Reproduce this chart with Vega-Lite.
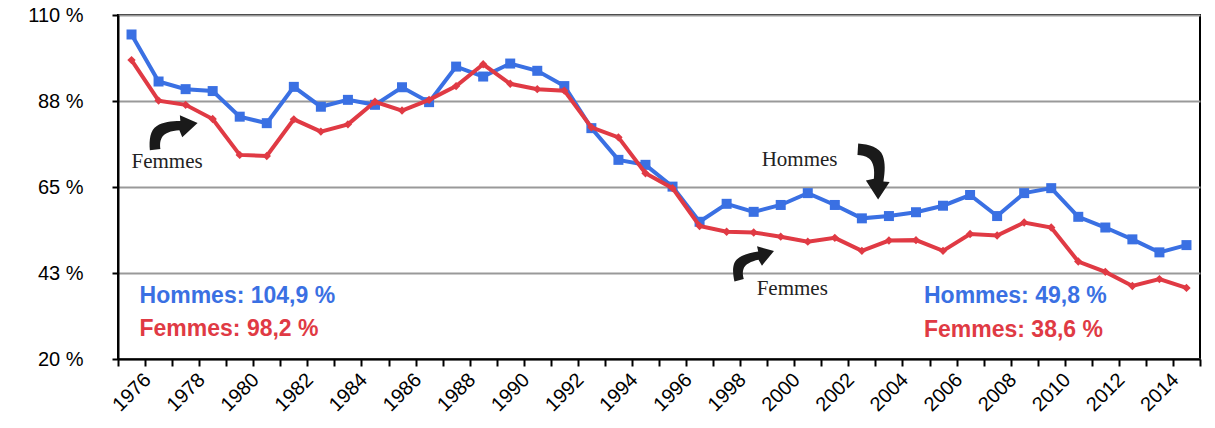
{
  "$schema": "https://vega.github.io/schema/vega-lite/v6.json",
  "width": 1082,
  "height": 344,
  "autosize": "none",
  "padding": {"left": 118, "top": 15, "right": 15, "bottom": 69},
  "config": {
    "view": {"stroke": "black", "strokeWidth": 2},
    "font": "Liberation Sans"
  },
  "datasets": {
    "series": [
      {"year":1976,"serie":"Hommes","value":104.9},{"year":1977,"serie":"Hommes","value":92.6},{"year":1978,"serie":"Hommes","value":90.6},{"year":1979,"serie":"Hommes","value":90.1},{"year":1980,"serie":"Hommes","value":83.4},{"year":1981,"serie":"Hommes","value":81.7},{"year":1982,"serie":"Hommes","value":91.2},{"year":1983,"serie":"Hommes","value":86.0},{"year":1984,"serie":"Hommes","value":87.8},{"year":1985,"serie":"Hommes","value":86.5},{"year":1986,"serie":"Hommes","value":91.1},{"year":1987,"serie":"Hommes","value":87.2},{"year":1988,"serie":"Hommes","value":96.5},{"year":1989,"serie":"Hommes","value":93.9},{"year":1990,"serie":"Hommes","value":97.3},{"year":1991,"serie":"Hommes","value":95.4},{"year":1992,"serie":"Hommes","value":91.4},{"year":1993,"serie":"Hommes","value":80.4},{"year":1994,"serie":"Hommes","value":72.1},{"year":1995,"serie":"Hommes","value":70.8},{"year":1996,"serie":"Hommes","value":65.1},{"year":1997,"serie":"Hommes","value":55.9},{"year":1998,"serie":"Hommes","value":60.6},{"year":1999,"serie":"Hommes","value":58.5},{"year":2000,"serie":"Hommes","value":60.3},{"year":2001,"serie":"Hommes","value":63.4},{"year":2002,"serie":"Hommes","value":60.3},{"year":2003,"serie":"Hommes","value":56.8},{"year":2004,"serie":"Hommes","value":57.4},{"year":2005,"serie":"Hommes","value":58.4},{"year":2006,"serie":"Hommes","value":60.1},{"year":2007,"serie":"Hommes","value":62.9},{"year":2008,"serie":"Hommes","value":57.4},{"year":2009,"serie":"Hommes","value":63.4},{"year":2010,"serie":"Hommes","value":64.7},{"year":2011,"serie":"Hommes","value":57.2},{"year":2012,"serie":"Hommes","value":54.4},{"year":2013,"serie":"Hommes","value":51.3},{"year":2014,"serie":"Hommes","value":47.9},{"year":2015,"serie":"Hommes","value":49.8},
      {"year":1976,"serie":"Femmes","value":98.2},{"year":1977,"serie":"Femmes","value":87.6},{"year":1978,"serie":"Femmes","value":86.5},{"year":1979,"serie":"Femmes","value":82.8},{"year":1980,"serie":"Femmes","value":73.4},{"year":1981,"serie":"Femmes","value":73.1},{"year":1982,"serie":"Femmes","value":82.7},{"year":1983,"serie":"Femmes","value":79.5},{"year":1984,"serie":"Femmes","value":81.4},{"year":1985,"serie":"Femmes","value":87.3},{"year":1986,"serie":"Femmes","value":85.0},{"year":1987,"serie":"Femmes","value":87.8},{"year":1988,"serie":"Femmes","value":91.4},{"year":1989,"serie":"Femmes","value":97.1},{"year":1990,"serie":"Femmes","value":92.0},{"year":1991,"serie":"Femmes","value":90.6},{"year":1992,"serie":"Femmes","value":90.2},{"year":1993,"serie":"Femmes","value":80.6},{"year":1994,"serie":"Femmes","value":78.0},{"year":1995,"serie":"Femmes","value":68.6},{"year":1996,"serie":"Femmes","value":64.7},{"year":1997,"serie":"Femmes","value":54.8},{"year":1998,"serie":"Femmes","value":53.3},{"year":1999,"serie":"Femmes","value":53.1},{"year":2000,"serie":"Femmes","value":52.0},{"year":2001,"serie":"Femmes","value":50.7},{"year":2002,"serie":"Femmes","value":51.7},{"year":2003,"serie":"Femmes","value":48.3},{"year":2004,"serie":"Femmes","value":51.0},{"year":2005,"serie":"Femmes","value":51.1},{"year":2006,"serie":"Femmes","value":48.3},{"year":2007,"serie":"Femmes","value":52.7},{"year":2008,"serie":"Femmes","value":52.3},{"year":2009,"serie":"Femmes","value":55.7},{"year":2010,"serie":"Femmes","value":54.4},{"year":2011,"serie":"Femmes","value":45.5},{"year":2012,"serie":"Femmes","value":42.8},{"year":2013,"serie":"Femmes","value":39.1},{"year":2014,"serie":"Femmes","value":40.9},{"year":2015,"serie":"Femmes","value":38.6}
    ]
  },
  "encoding": {
    "x": {
      "field": "year",
      "type": "ordinal",
      "scale": {"type": "band", "paddingInner": 0, "paddingOuter": 0},
      "axis": {
        "title": null,
        "tickBand": "extent",
        "labelExpr": "datum.value % 2 == 0 ? datum.label : ''",
        "labelAngle": -45,
        "labelAlign": "center",
        "labelBaseline": "middle",
        "labelPadding": 26,
        "labelFontSize": 20,
        "labelColor": "black",
        "labelOverlap": false,
        "domainColor": "black",
        "domainWidth": 2,
        "tickColor": "black",
        "tickWidth": 2,
        "tickSize": 7,
        "grid": false
      }
    },
    "y": {
      "field": "value",
      "type": "quantitative",
      "scale": {"domain": [20, 110], "nice": false, "zero": false},
      "axis": {
        "title": null,
        "values": [20, 42.5, 65, 87.5, 110],
        "labelExpr": "round(datum.value) + ' %'",
        "labelFontSize": 20,
        "labelColor": "black",
        "labelPadding": 29,
        "domainColor": "black",
        "domainWidth": 2,
        "tickColor": "black",
        "tickWidth": 2,
        "tickSize": 6,
        "grid": true,
        "gridColor": "#999999",
        "gridWidth": 2
      }
    },
    "color": {
      "field": "serie",
      "type": "nominal",
      "scale": {"domain": ["Hommes", "Femmes"], "range": ["#3a70e3", "#e03a44"]},
      "legend": null
    }
  },
  "layer": [
    {
      "data": {"name": "series"},
      "transform": [{"filter": "datum.serie == 'Hommes'"}],
      "mark": {"type": "line", "strokeWidth": 4}
    },
    {
      "data": {"name": "series"},
      "transform": [{"filter": "datum.serie == 'Hommes'"}],
      "mark": {"type": "point", "shape": "square", "filled": true, "size": 100, "opacity": 1}
    },
    {
      "data": {"name": "series"},
      "transform": [{"filter": "datum.serie == 'Femmes'"}],
      "mark": {"type": "line", "strokeWidth": 4}
    },
    {
      "data": {"name": "series"},
      "transform": [{"filter": "datum.serie == 'Femmes'"}],
      "mark": {"type": "point", "shape": "diamond", "filled": true, "size": 70, "opacity": 1}
    },
    {
      "data": {"values": [
        {"year": 1976, "value": 36.5, "serie": "Hommes", "label": "Hommes: 104,9 %"},
        {"year": 1976, "value": 27.9, "serie": "Femmes", "label": "Femmes: 98,2 %"},
        {"year": 2005, "value": 36.5, "serie": "Hommes", "label": "Hommes: 49,8 %"},
        {"year": 2005, "value": 27.6, "serie": "Femmes", "label": "Femmes: 38,6 %"}
      ]},
      "mark": {"type": "text", "align": "left", "baseline": "middle", "dx": 8, "fontSize": 23, "fontWeight": "bold", "font": "Liberation Sans"},
      "encoding": {"text": {"field": "label"}}
    },
    {
      "data": {"values": [{"year": 1976, "value": 70.0, "label": "Femmes"}]},
      "mark": {"type": "text", "align": "left", "baseline": "alphabetic", "dx": 0, "fontSize": 21, "font": "Liberation Serif"},
      "encoding": {"text": {"field": "label"}, "color": {"value": "#222222"}}
    },
    {
      "data": {"values": [{"year": 1999, "value": 70.55, "label": "Hommes"}]},
      "mark": {"type": "text", "align": "left", "baseline": "alphabetic", "dx": 8, "fontSize": 21, "font": "Liberation Serif"},
      "encoding": {"text": {"field": "label"}, "color": {"value": "#222222"}}
    },
    {
      "data": {"values": [{"year": 1999, "value": 36.75, "label": "Femmes"}]},
      "mark": {"type": "text", "align": "left", "baseline": "alphabetic", "dx": 3, "fontSize": 21, "font": "Liberation Serif"},
      "encoding": {"text": {"field": "label"}, "color": {"value": "#222222"}}
    },
    {
      "data": {"values": [{"year": 1978, "value": 79.1, "note": "flèche Femmes"}]},
      "mark": {"type": "point", "filled": true, "opacity": 1, "size": 2300, "xOffset": -12,
               "shape": "M -0.99 0.71 C -1.03 0.3 -0.98 -0.15 -0.7 -0.3 C -0.45 -0.45 -0.1 -0.5 0.28 -0.5 L 0.26 -0.74 L 1 -0.42 L 0.36 0.17 L 0.24 -0.12 C -0.1 -0.1 -0.4 0 -0.5 0.2 C -0.58 0.35 -0.57 0.55 -0.55 0.66 Z"},
      "encoding": {"color": {"value": "#1a1a1a"}}
    },
    {
      "data": {"values": [{"year": 1999, "value": 45.1, "note": "flèche Femmes"}]},
      "mark": {"type": "point", "filled": true, "opacity": 1, "size": 1900, "angle": -8,
               "shape": "M -0.99 0.71 C -1.03 0.3 -0.98 -0.15 -0.7 -0.3 C -0.45 -0.45 -0.1 -0.5 0.28 -0.5 L 0.26 -0.74 L 1 -0.42 L 0.36 0.17 L 0.24 -0.12 C -0.1 -0.1 -0.4 0 -0.5 0.2 C -0.58 0.35 -0.57 0.55 -0.55 0.66 Z"},
      "encoding": {"color": {"value": "#1a1a1a"}}
    },
    {
      "data": {"values": [{"year": 2003, "value": 68.9, "note": "flèche Hommes"}]},
      "mark": {"type": "point", "filled": true, "opacity": 1, "size": 2700, "angle": 100, "xOffset": 10,
               "shape": "M -0.99 0.71 C -1.03 0.3 -0.98 -0.15 -0.7 -0.3 C -0.45 -0.45 -0.1 -0.5 0.28 -0.5 L 0.26 -0.74 L 1 -0.42 L 0.36 0.17 L 0.24 -0.12 C -0.1 -0.1 -0.4 0 -0.5 0.2 C -0.58 0.35 -0.57 0.55 -0.55 0.66 Z"},
      "encoding": {"color": {"value": "#1a1a1a"}}
    }
  ]
}
